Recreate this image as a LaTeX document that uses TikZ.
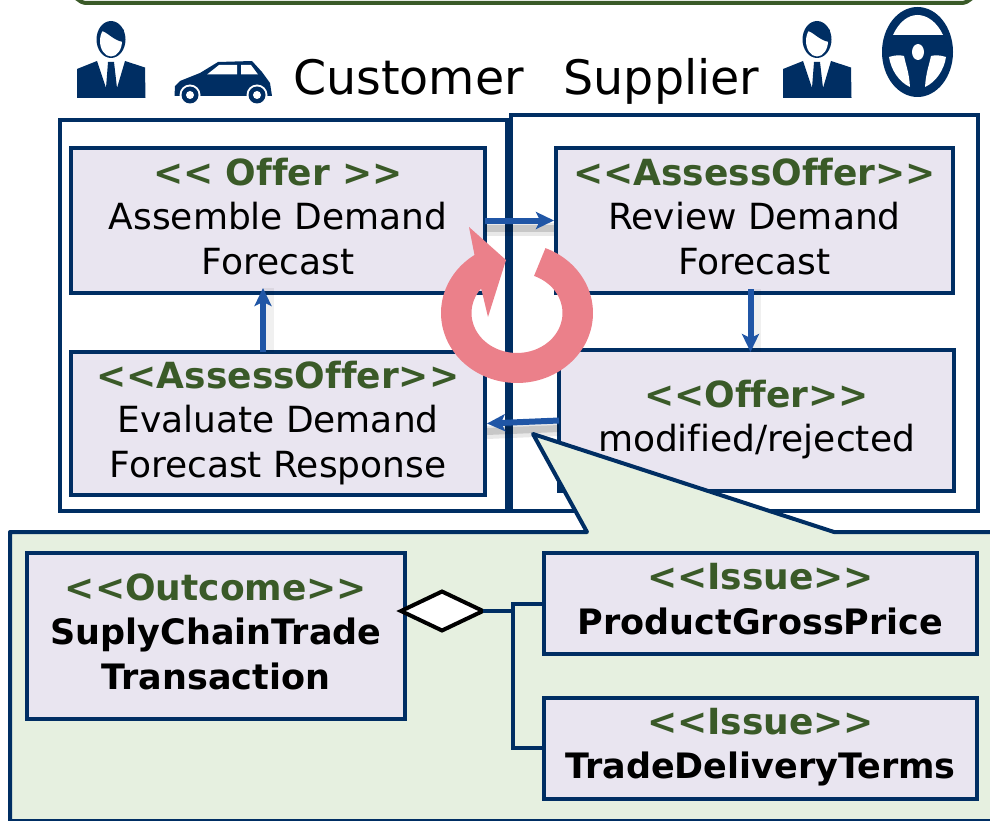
\documentclass[tikz,border=0pt]{standalone}
\usepackage{xcolor}
\usepackage{fontspec}
\usepackage{tikz}
\usetikzlibrary{positioning}
\usetikzlibrary{shapes.geometric, arrows.meta}
\setmainfont[Ligatures=NoCommon]{DejaVu Sans}

\definecolor{navyline}{HTML}{002E63}
\definecolor{stereogreen}{HTML}{3A5A28}
\definecolor{boxfill}{HTML}{E9E5F0}
\definecolor{calloutfill}{HTML}{E6F0E0}
\definecolor{flowblue}{HTML}{2056A6}
\definecolor{cyclepink}{HTML}{EB808A}
\newcommand{\stereo}[1]{\textcolor{stereogreen}{\textbf{#1}}}
\newcommand{\elementname}[1]{{\fontsize{35}{44.5}\selectfont\bfseries #1}}

\begin{document}
\begin{tikzpicture}[
    x=1pt,
    y=-1pt,
    lane/.style={
        rectangle,
        draw=navyline,
        line width=4pt,
        outer sep=0pt
    },
    activity/.style={
        rectangle,
        draw=navyline,
        fill=boxfill,
        line width=4pt,
        outer sep=0pt,
        inner sep=0pt,
        align=center,
        text depth=9pt,
        font=\fontsize{36}{44.5}\selectfont
    },
    issue/.style={
        activity,
        minimum width=433pt,
        minimum height=101pt
    },
    role/.style={
        inner sep=0pt,
        anchor=base,
        font=\fontsize{47.5}{50}\selectfont
    },
    flow/.style={
        -{Stealth[length=18pt,width=17pt,inset=4pt]},
        draw=flowblue,
        line width=6pt
    },
    flowbelow/.style={
        flow,
        preaction={draw=black,opacity=0.09,line width=13pt,-,transform canvas={yshift=-9pt}},
        preaction={draw=black,opacity=0.14,line width=7pt,-,transform canvas={yshift=-8pt}}
    },
    flowbeside/.style={
        flow,
        preaction={draw=black,opacity=0.06,line width=11pt,-,transform canvas={xshift=5pt}}
    },
    link/.style={
        draw=navyline,
        line width=4pt
    },
    pics/person/.style={
        code={
            \fill[navyline] (77,69) -- (97,61) -- (106,88) -- (108,62) -- (114,62) -- (117,88) -- (125,61) -- (145,67.5)
                -- (145.5,98) -- (77,98) -- cycle;
            \fill[navyline] (111,39.5) ellipse [x radius=14.5pt, y radius=18.5pt];
            \fill[white] (111,41) ellipse [x radius=11pt, y radius=15.5pt];
            \fill[navyline] (100,31) .. controls (106,30) and (112,40) .. (123,42) -- (124,30) -- (111,22) -- cycle;
        }
    }
]
\useasboundingbox (0,0) rectangle (990,821);

% top frame
\draw[draw=stereogreen, line width=4pt, rounded corners=14pt] (73,-40) rectangle (975,3);

% icons
\pic at (0,0) {person};
\pic at (706,0) {person};
\fill[navyline] (174.5,96) -- (175,86) -- (180,81) -- (200,73) -- (218,62) -- (252,61) -- (262,72) -- (270,83) -- (272,96) -- cycle;
\fill[white] (207,74.5) -- (219,65) -- (237,65) -- (237,74.5) -- cycle;
\fill[white] (241,65) -- (251,65) -- (258,74.5) -- (241,74.5) -- cycle;
\foreach \wheelx in {190,257} {
    \fill[white] (\wheelx,95) circle (10.5pt);
    \fill[navyline] (\wheelx,95) circle (8.5pt);
    \fill[white] (\wheelx,95) circle (4pt);
}
\fill[navyline] (917.5,52) ellipse [x radius=35.5pt, y radius=45pt];
\fill[white] (893,35) .. controls (899,22) and (908,15) .. (917.5,15) .. controls (927,15) and (937,22) .. (943,35) -- cycle;
\fill[white] (889,57) .. controls (895,55) and (900,55) .. (904,56) .. controls (906,66) and (909,72) .. (910,87) .. controls (899,82) and (891,70) .. (889,57) -- cycle;
\fill[white] (946,57) .. controls (940,55) and (935,55) .. (931,56) .. controls (929,66) and (926,72) .. (925,87) .. controls (936,82) and (944,70) .. (946,57) -- cycle;
\fill[white] (918,52) ellipse [x radius=6pt, y radius=8pt];

\node[role] (customerLabel) at (408.5,95) {Customer};
\node[role] (supplierLabel) at (661.5,95) {Supplier};

% swimlanes
\node[lane, minimum width=447pt, minimum height=391pt] (customerLane) at (283.5,315.5) {};
\node[lane, minimum width=467pt, minimum height=395pt] (supplierLane) at (744.5,313) {};

% activities
\node[activity, minimum width=414pt, minimum height=145pt] (assembleForecast) at (278,220.5) {
    \stereo{<{}< Offer >{}>}\\
    Assemble Demand\\
    Forecast
};
\node[activity, minimum width=397pt, minimum height=145pt] (reviewForecast) at (754.5,220.5) {
    \stereo{<{}<AssessOffer>{}>}\\
    Review Demand\\
    Forecast
};
\node[activity, minimum width=414pt, minimum height=143pt] (evaluateResponse) at (278,423.5) {
    \stereo{<{}<AssessOffer>{}>}\\
    Evaluate Demand\\
    Forecast Response
};
\node[activity, minimum width=395pt, minimum height=141pt] (modifiedOffer) at (756.5,420.5) {
    \stereo{<{}<Offer>{}>}\\
    modified/rejected
};

% flows
\draw[flowbelow] (assembleForecast.east) -- ([xshift=-2pt]reviewForecast.west);
\draw[flowbeside] ([xshift=-4pt,yshift=4pt]reviewForecast.south) -- ([xshift=-6pt,yshift=-2pt]modifiedOffer.north);
\draw[flowbelow] (modifiedOffer.west) -- ([xshift=2pt]evaluateResponse.east);
\draw[flowbeside] ([xshift=-15pt]evaluateResponse.north) -- ([xshift=-15pt,yshift=5pt]assembleForecast.south);

% cycle
\fill[cyclepink] plot[domain=-68:236,samples=60,smooth] ({517+76*cos(\x)},{313+70*sin(\x)})
    -- (469,227) -- (506,260) -- (488,317)
    -- plot[domain=218:-68,samples=60,smooth] ({517+45.5*cos(\x)},{313+40*sin(\x)}) -- cycle;

% callout
\draw[draw=navyline, fill=calloutfill, line width=4pt, line join=round] (10,821) -- (10,532) -- (587,532) -- (533,434) -- (834,532) -- (1000,532) -- (1000,821) -- cycle;

% composition
\node[activity, minimum width=378pt, minimum height=166pt] (tradeOutcome) at (216,636) {
    \stereo{<{}<Outcome>{}>}\\
    \elementname{SuplyChainTrade}\\
    \elementname{Transaction}
};
\node[issue] (grossPrice) at (760.5,603.5) {
    \stereo{<{}<Issue>{}>}\\
    \elementname{ProductGrossPrice}
};
\node[issue] (deliveryTerms) at (760.5,748) {
    \stereo{<{}<Issue>{}>}\\
    \elementname{TradeDeliveryTerms}
};
\node[diamond, draw=black, fill=white, line width=4pt, aspect=2, inner sep=0pt, minimum width=82pt, minimum height=39pt, outer sep=0pt] (wholeEnd) at (442,611) {};
\coordinate (joint) at (513,611);
\draw[link] (wholeEnd.east) -- (joint);
\draw[link] (grossPrice.west) -| (joint);
\draw[link] (joint) |- (deliveryTerms.west);

\end{tikzpicture}
\end{document}
